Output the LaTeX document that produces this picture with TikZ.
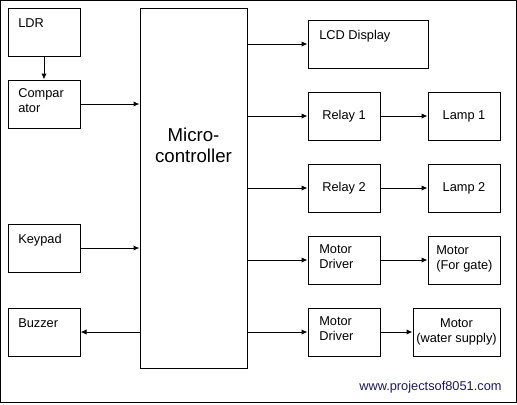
\documentclass[tikz,border=0pt]{standalone}
\usepackage{fontspec}
\setmainfont{Liberation Sans}
\usetikzlibrary{positioning}
\usetikzlibrary{arrows.meta}

\definecolor{webnavy}{RGB}{26,26,102}

\tikzset{
  blk/.style 2 args={draw=black,line width=0.75pt,rectangle,inner sep=0pt,
    minimum width=#1*0.75pt,minimum height=#2*0.75pt,
    font=\fontsize{9.6}{11.25}\selectfont,align=center},
  txt/.style={inner sep=0pt,font=\fontsize{9.6}{11.25}\selectfont,align=left},
  link/.style={line width=0.75pt,-{Latex[length=4.5pt,width=4pt]}}
}

\begin{document}
\begin{tikzpicture}[x=0.75pt,y=-0.75pt]
\useasboundingbox (0,0) rectangle (517,404);
\draw[line width=0.75pt] (0.5,0.5) rectangle (516.5,402.5);

% input side
\node[blk={72}{48}] (ldr) at (44,32) {};
\node[blk={72}{48}] (comp) at (44,104) {};
\node[blk={72}{48}] (key) at (44,248) {};
\node[blk={72}{48}] (buz) at (44,332) {};
\node[txt,anchor=base west] at (18,27) {LDR};
\node[txt,anchor=west] at (18,100.5) {Compar\\ator};
\node[txt,anchor=base west] at (18,243) {Keypad};
\node[txt,anchor=base west] at (18,327) {Buzzer};

% controller
\node[blk={107}{360}] (mc) at (193.5,188) {};
\node[inner sep=0pt,align=center,font=\fontsize{14}{15.75}\selectfont] at (193.5,145.5) {Micro-\\controller};

% output side
\node[blk={120}{48}] (lcd) at (368,44) {};
\node[txt,anchor=base west] at (319,39) {LCD Display};
\node[blk={72}{48}] (rl1) at (344,116) {Relay 1};
\node[blk={72}{48}] (lp1) at (464,116) {Lamp 1};
\node[blk={72}{48}] (rl2) at (344,188) {Relay 2};
\node[blk={72}{48}] (lp2) at (464,188) {Lamp 2};
\node[blk={72}{48}] (md1) at (344,260) {};
\node[blk={72}{48}] (mt1) at (464,260) {};
\node[blk={72}{48}] (md2) at (344,332) {};
\node[blk={87}{48}] (mt2) at (456.5,332) {Motor\\(water supply)};
\node[txt,anchor=west] at (319,257) {Motor\\Driver};
\node[txt,anchor=west] at (436,258.5) {Motor\\(For gate)};
\node[txt,anchor=west] at (319,329) {Motor\\Driver};

% connectors
\draw[link] (ldr.south) -- (comp.north);
\draw[link] (comp.east) -- (comp.east -| mc.west);
\draw[link] (key.east) -- (key.east -| mc.west);
\draw[link] (buz.east -| mc.west) -- (buz.east);
\foreach \b in {lcd,rl1,rl2,md1,md2}
  \draw[link] (\b.west -| mc.east) -- (\b.west);
\draw[link] (rl1) -- (lp1);
\draw[link] (rl2) -- (lp2);
\draw[link] (md1) -- (mt1);
\draw[link] (md2) -- (mt2);

\node[inner sep=0pt,anchor=base west,text=webnavy,font=\fontsize{9.6}{11}\selectfont] at (359,390) {www.projectsof8051.com};
\end{tikzpicture}
\end{document}
